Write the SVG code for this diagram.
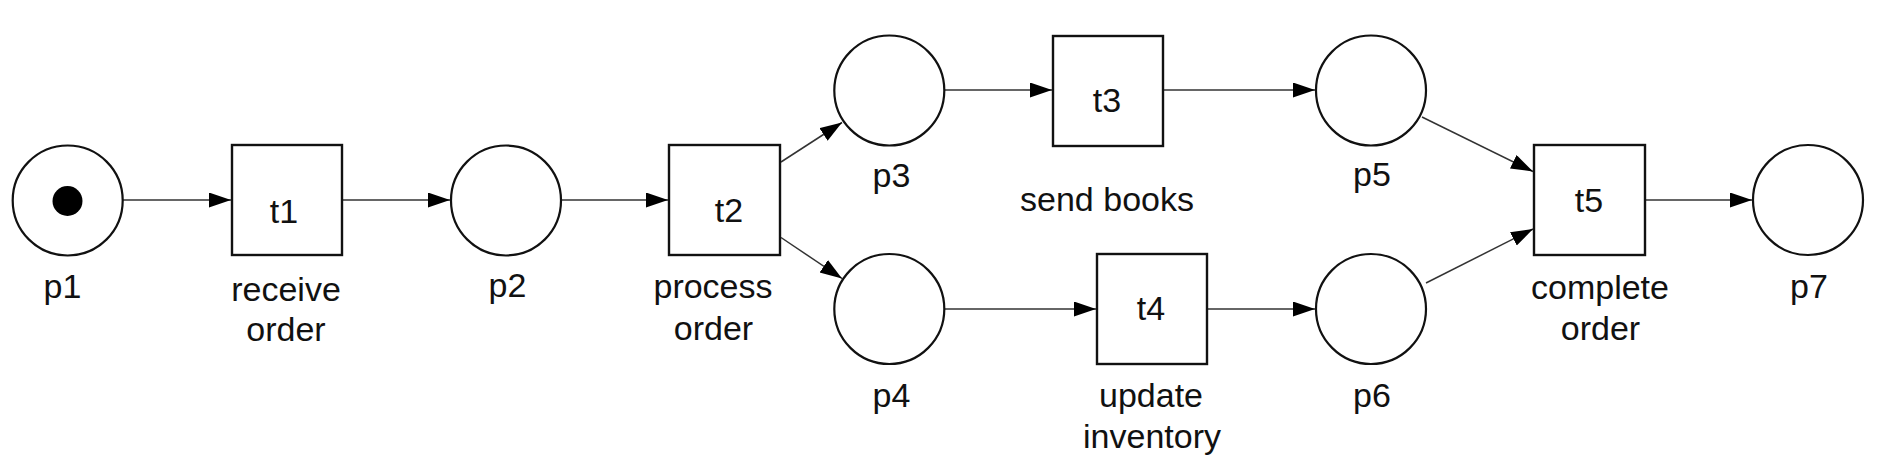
<svg xmlns="http://www.w3.org/2000/svg" width="1879" height="464" viewBox="0 0 1879 464">
<style>
.place{fill:#fff;stroke:#111;stroke-width:2.2}
.trans{fill:#fff;stroke:#111;stroke-width:2.4}
.arc{stroke:#333;stroke-width:1.5;fill:none;marker-end:url(#ah)}
text{font-family:"Liberation Sans",Arial,sans-serif;font-size:34px;fill:#111;text-anchor:middle}
</style>
<defs>
<marker id="ah" markerUnits="userSpaceOnUse" markerWidth="23" markerHeight="16" refX="22" refY="7.5" orient="auto">
<path d="M0,0 L22,7.5 L0,15 z" fill="#000"/>
</marker>
</defs>
<rect width="1879" height="464" fill="#fff"/>
<g id="connectors">
<line class="arc" x1="123" y1="200" x2="231" y2="200"/>
<line class="arc" x1="343" y1="200" x2="450" y2="200"/>
<line class="arc" x1="562" y1="200" x2="668" y2="200"/>
<line class="arc" x1="781" y1="162" x2="842" y2="122.5"/>
<line class="arc" x1="781" y1="237.5" x2="842" y2="278.5"/>
<line class="arc" x1="945" y1="90" x2="1052" y2="90"/>
<line class="arc" x1="1164" y1="90" x2="1315" y2="90"/>
<line class="arc" x1="945" y1="309" x2="1096" y2="309"/>
<line class="arc" x1="1208" y1="309" x2="1315" y2="309"/>
<line class="arc" x1="1422" y1="117" x2="1533" y2="171.5"/>
<line class="arc" x1="1426" y1="283" x2="1533" y2="229"/>
<line class="arc" x1="1646" y1="200" x2="1752" y2="200"/>
</g>
<g id="p1">
<circle class="place" cx="67.7" cy="200.5" r="55"/>
<circle cx="67.5" cy="201" r="15" fill="#000"/>
<text x="62.5" y="298">p1</text>
</g>
<g id="t1">
<rect class="trans" x="232" y="145" width="110" height="110"/>
<text x="284" y="223">t1</text>
<text x="286" y="301">receive</text>
<text x="286" y="341">order</text>
</g>
<g id="p2">
<circle class="place" cx="506" cy="200.5" r="55"/>
<text x="507.5" y="297">p2</text>
</g>
<g id="t2">
<rect class="trans" x="669" y="145" width="111" height="110"/>
<text x="729" y="222">t2</text>
<text x="713" y="298">process</text>
<text x="713.5" y="340">order</text>
</g>
<g id="p3">
<circle class="place" cx="889.3" cy="90.5" r="55"/>
<text x="891.5" y="187">p3</text>
</g>
<g id="t3">
<rect class="trans" x="1053" y="36" width="110" height="110"/>
<text x="1107" y="112">t3</text>
<text x="1107" y="211">send books</text>
</g>
<g id="p4">
<circle class="place" cx="889.3" cy="309" r="55"/>
<text x="891.5" y="407">p4</text>
</g>
<g id="t4">
<rect class="trans" x="1097" y="254" width="110" height="110"/>
<text x="1151" y="320">t4</text>
<text x="1151" y="407">update</text>
<text x="1152" y="448">inventory</text>
</g>
<g id="p5">
<circle class="place" cx="1371" cy="90.5" r="55"/>
<text x="1372" y="186">p5</text>
</g>
<g id="p6">
<circle class="place" cx="1371" cy="309" r="55"/>
<text x="1372" y="407">p6</text>
</g>
<g id="t5">
<rect class="trans" x="1534" y="145" width="111" height="110"/>
<text x="1589" y="212">t5</text>
<text x="1600" y="299">complete</text>
<text x="1600.5" y="340">order</text>
</g>
<g id="p7">
<circle class="place" cx="1808" cy="200" r="55"/>
<text x="1809" y="298">p7</text>
</g>
</svg>
